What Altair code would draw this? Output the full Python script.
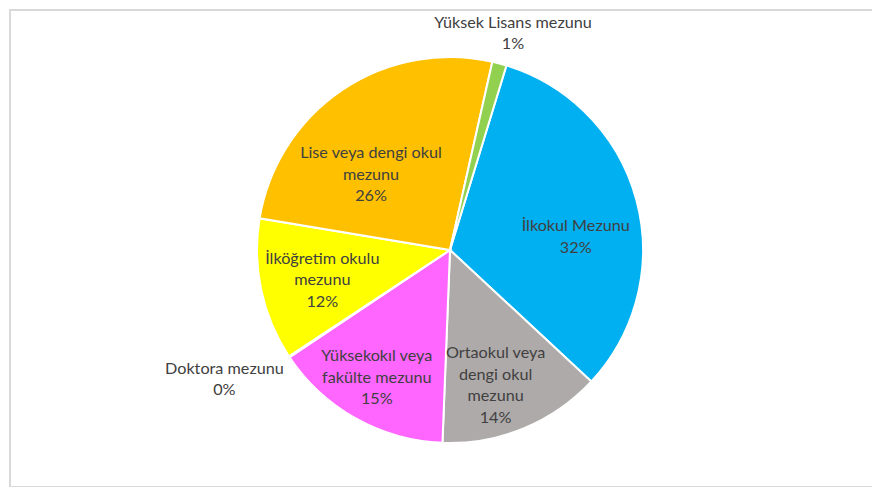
import math
import altair as alt
import pandas as pd

# ---- data ----
categories = [
    "İlkokul Mezunu",
    "Ortaokul veya dengi okul mezunu",
    "Yüksekokıl veya fakülte mezunu",
    "Doktora mezunu",
    "İlköğretim okulu mezunu",
    "Lise veya dengi okul mezunu",
    "Yüksek Lisans mezunu",
]
values = [32.2, 13.7, 15.0, 0.1, 11.9, 25.9, 1.2]
label_text = [
    "İlkokul Mezunu",
    "Ortaokul veya\ndengi okul\nmezunu",
    "Yüksekokıl veya\nfakülte mezunu",
    "Doktora mezunu",
    "İlköğretim okulu\nmezunu",
    "Lise veya dengi okul\nmezunu",
    "Yüksek Lisans mezunu",
]
colors = ["#00B0F0", "#AEAAAA", "#FF66FF", "#4472C4", "#FFFF00", "#FFC000", "#92D050"]

# ---- layout (label placement of first text line: angular nudge in % units, radius in px) ----
label_shift = [1.18, -0.38, 1.48, 1.61, 2.22, -1.46, 0.18]
label_radius = [128, 113, 129, 255, 128, 125, 236]

df = pd.DataFrame({
    "category": categories,
    "value": values,
    "label": label_text,
    "order": list(range(len(categories))),
    "shift": label_shift,
    "r": label_radius,
})

W, H = 864, 479
CX, CY = 441, 241
start = math.radians(17)
theta_scale = alt.Scale(domain=[0, 100], range=[start, start + 2 * math.pi])

base = alt.Chart(df)

pie = base.mark_arc(outerRadius=193, stroke="white", strokeWidth=2).encode(
    theta=alt.Theta("value:Q", scale=theta_scale, stack=True),
    color=alt.Color("category:N", scale=alt.Scale(domain=categories, range=colors), legend=None),
    order=alt.Order("order:Q"),
    x=alt.value(CX),
    y=alt.value(CY),
)

labels = base.transform_window(
    cum="sum(value)", sort=[alt.SortField("order")], frame=[None, 0]
).transform_calculate(
    mid="datum.cum - datum.value / 2 + datum.shift",
    txt="datum.label + '\\n' + format(datum.value / 100, '.0%')",
).mark_text(
    font="Lato", fontSize=16.2, color="#404040", lineBreak="\n",
    lineHeight=21.5, align="center", baseline="middle",
).encode(
    theta=alt.Theta("mid:Q", scale=theta_scale, stack=False),
    radius=alt.Radius("r:Q", scale=None),
    text="txt:N",
    x=alt.value(CX),
    y=alt.value(CY),
)

frame_data = alt.Data(values=[{"k": 1}])
frame_col = "#D9D9D9"
top = alt.Chart(frame_data).mark_rule(color=frame_col, strokeWidth=2).encode(
    x=alt.value(0), x2=alt.value(W), y=alt.value(1))
left = alt.Chart(frame_data).mark_rule(color=frame_col, strokeWidth=2).encode(
    x=alt.value(1), y=alt.value(0), y2=alt.value(H))
bottom = alt.Chart(frame_data).mark_rule(color=frame_col, strokeWidth=2).encode(
    x=alt.value(0), x2=alt.value(W), y=alt.value(H - 1))

chart = alt.layer(pie, labels, top, left, bottom).properties(
    width=W, height=H, padding=0,
    autosize=alt.AutoSizeParams(type="fit", contains="padding"),
).configure_view(stroke=None)

chart.save("out.html", embed_options={"renderer": "svg", "actions": False})
